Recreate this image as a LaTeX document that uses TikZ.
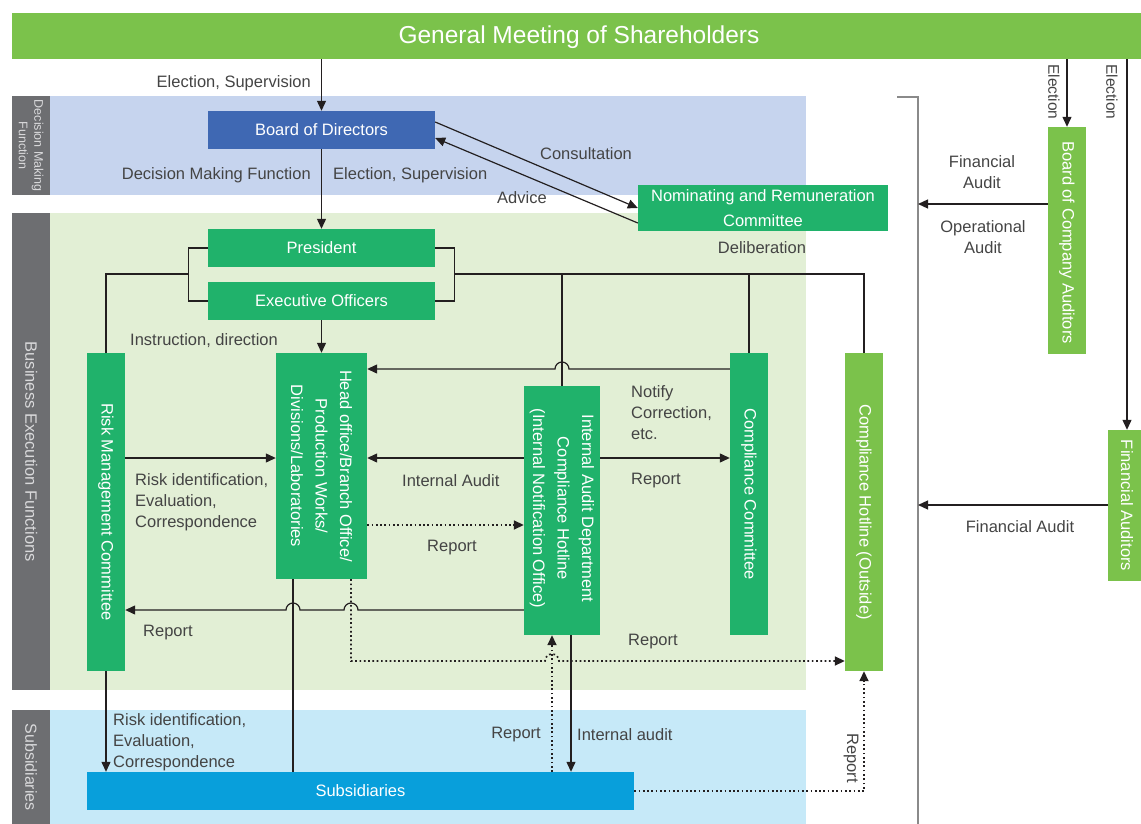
\documentclass[tikz,border=0pt]{standalone}
\usepackage{fontspec}
\setmainfont{Liberation Sans}
\usetikzlibrary{arrows.meta,calc}
\definecolor{gmgreen}{HTML}{7BC24B}
\definecolor{dkgreen}{HTML}{20B26B}
\definecolor{bodblue}{HTML}{3F68B3}
\definecolor{bandblue}{HTML}{C6D4EE}
\definecolor{bandgreen}{HTML}{E2EFD5}
\definecolor{bandsky}{HTML}{C6E9F8}
\definecolor{subblue}{HTML}{089FDB}
\definecolor{stripgray}{HTML}{6D6E71}
\definecolor{labelgray}{HTML}{444444}
\definecolor{linegray}{HTML}{8A8A8A}
\definecolor{linedark}{HTML}{231F20}
\definecolor{striptext}{HTML}{D9D9DB}
\tikzset{
  band/.style={draw=none, inner sep=0, anchor=north west},
  box/.style={draw=none, inner sep=0, text=white, align=center,
    font=\fontsize{16.5}{24.5}\selectfont},
  boxtext/.style={inner sep=0, text=white, align=center,
    font=\fontsize{16.5}{24.5}\selectfont},
  lbl/.style={inner sep=0, text=labelgray, align=left, yshift=-2pt,
    font=\fontsize{16.5}{21}\selectfont},
  striplbl/.style={inner sep=0, text=striptext, align=center, rotate=-90},
  conn/.style={draw=linedark, line width=1.2pt},
  arr/.style={conn, -{Triangle[length=10pt,width=9pt]}},
  dotln/.style={draw=linedark, line width=1.7pt, dash pattern=on 1.7pt off 2.6pt},
  darr/.style={dotln, -{Triangle[length=10pt,width=9pt]}},
  gline/.style={draw=linegray, line width=2pt},
}
\begin{document}
\begin{tikzpicture}[x=1pt,y=-1pt]
\useasboundingbox (0,0) rectangle (1141,824);
% bands
\node[band, fill=bandblue, minimum width=756, minimum height=99] (dmband) at (50,96) {};
\node[band, fill=stripgray, minimum width=38, minimum height=99] (dmstrip) at (12,96) {};
\node[band, fill=bandgreen, minimum width=756, minimum height=477] (beband) at (50,213) {};
\node[band, fill=stripgray, minimum width=38, minimum height=477] (bestrip) at (12,213) {};
\node[band, fill=bandsky, minimum width=756, minimum height=114] (sbband) at (50,710) {};
\node[band, fill=stripgray, minimum width=38, minimum height=114] (sbstrip) at (12,710) {};
\node[striplbl, font=\fontsize{12.5}{15.5}\selectfont] at (dmstrip.center) {Decision Making\\Function};
\node[striplbl, font=\fontsize{16.5}{20}\selectfont] at (bestrip.center) {Business Execution Functions};
\node[striplbl, font=\fontsize{16}{20}\selectfont] at (sbstrip.center) {Subsidiaries};

% boxes
\node[box, fill=gmgreen, minimum width=1134, minimum height=46, font=\fontsize{24.5}{28}\selectfont, text height=18pt, text depth=3pt] (gm) at (579,36) {General Meeting of Shareholders};
\node[box, fill=bodblue, minimum width=227, minimum height=38] (board) at (321.5,130) {Board of Directors};
\node[box, fill=dkgreen, minimum width=250, minimum height=46] (nom) at (763,208) {Nominating and Remuneration\\Committee};
\node[box, fill=dkgreen, minimum width=227, minimum height=38] (pres) at (321.5,248) {President};
\node[box, fill=dkgreen, minimum width=227, minimum height=38] (exec) at (321.5,301) {Executive Officers};
\node[box, fill=dkgreen, minimum width=38, minimum height=318] (risk) at (106,512) {};
\node[boxtext, rotate=-90] at (risk.center) {Risk Management Committee};
\node[box, fill=dkgreen, minimum width=91, minimum height=226] (hq) at (321.5,466) {};
\node[boxtext, rotate=-90] at (hq.center) {Head office/Branch Office/\\Production Works/\\Divisions/Laboratories};
\node[box, fill=dkgreen, minimum width=76, minimum height=249] (ia) at (562,510.5) {};
\node[boxtext, rotate=-90] at ($(ia.center)+(0,-2)$) {Internal Audit Department\\Compliance Hotline\\(Internal Notification Office)};
\node[box, fill=dkgreen, minimum width=38, minimum height=282] (cc) at (749,494) {};
\node[boxtext, rotate=-90] at (cc.center) {Compliance Committee};
\node[box, fill=gmgreen, minimum width=38, minimum height=318] (hot) at (864,512) {};
\node[boxtext, rotate=-90] at (hot.center) {Compliance Hotline (Outside)};
\node[box, fill=gmgreen, minimum width=38, minimum height=227] (bca) at (1067,240.5) {};
\node[boxtext, rotate=-90] at ($(bca.center)+(0,2)$) {Board of Company Auditors};
\node[box, fill=gmgreen, minimum width=38, minimum height=151] (fa) at (1127,505.5) {};
\node[boxtext, rotate=-90] at (fa.center) {Financial Auditors};
\node[box, fill=subblue, minimum width=547, minimum height=38] (subs) at (360.5,791) {Subsidiaries};

% auditor line
\coordinate (aud) at (918,97);
\draw[gline] (897,97) -- (aud) -- (918,826);

% connectors
\draw[arr] (gm.south -| board) -- (board.north);
\draw[arr] (board.south) -- (pres.north);
\draw[arr] (board.east |- 0,122) -- (nom.west);
\draw[arr] (nom.west |- 0,223) -- (board.east |- 0,138);
\draw[conn] (pres.west) -- ++(-19,0) |- (exec.west);
\draw[conn] (pres.east) -- ++(19,0) |- (exec.east);
\coordinate (bl) at (189,274);
\coordinate (br) at (454,274);
\draw[conn] (bl) -| (risk.north);
\draw[conn] (br) -| (hot.north);
\draw[conn] (ia.north) -- (ia.north |- br);
\draw[conn] (cc.north) -- (cc.north |- br);
\draw[arr] (exec.south) -- (hq.north);
\draw[arr] (cc.west |- 0,369) -- ($(ia.north |- 0,369)+(7,0)$) arc[start angle=0, end angle=-180, radius=7] -- (hq.east |- 0,369);
\draw[arr] (risk.east |- 0,458) -- (hq.west |- 0,458);
\draw[arr] (ia.west |- 0,458) -- (hq.east |- 0,458);
\draw[arr] (ia.east |- 0,458) -- (cc.west |- 0,458);
\draw[darr] (hq.east |- 0,525) -- (ia.west |- 0,525);
\draw[arr] (ia.west |- 0,610) -- (358,610) arc[start angle=0, end angle=-180, radius=7] -- (300,610) arc[start angle=0, end angle=-180, radius=7] -- (risk.east |- 0,610);
\draw[conn] (hq.south -| 293,0) -- (subs.north -| 293,0);
\draw[darr] (hq.south -| 351,0) -- (351,661) -- (545,661) arc[start angle=180, end angle=360, radius=7] -- (hot.west |- 0,661);
\draw[darr] (subs.north -| 552,0) -- (ia.south -| 552,0);
\draw[arr] (ia.south -| 571,0) -- (subs.north -| 571,0);
\draw[arr] (risk.south) -- (risk.south |- subs.north);
\draw[darr] (subs.east) -| (hot.south);
\draw[arr] (gm.south -| bca) -- (bca.north);
\draw[arr] (gm.south -| fa) -- (fa.north);
\draw[arr] (bca.west |- 0,204) -- (aud |- 0,204);
\draw[arr] (fa.west |- 0,505) -- (aud |- 0,505);

% labels
\node[lbl, anchor=east] at (311,81) {Election, Supervision};
\node[lbl, anchor=east] at (311,173) {Decision Making Function};
\node[lbl, anchor=west] at (333,173) {Election, Supervision};
\node[lbl] at (586,152) {Consultation};
\node[lbl] at (522,196) {Advice};
\node[lbl] at (762,246) {Deliberation};
\node[lbl, anchor=west] at (130,339) {Instruction, direction};
\node[lbl, anchor=west] at (135,500) {Risk identification,\\Evaluation,\\Correspondence};
\node[lbl, anchor=west] at (402,479) {Internal Audit};
\node[lbl, anchor=west] at (631,411) {Notify\\Correction,\\etc.};
\node[lbl, anchor=west] at (631,479) {Report};
\node[lbl] at (452,546) {Report};
\node[lbl, anchor=west] at (143,631) {Report};
\node[lbl, anchor=west] at (628,640) {Report};
\node[lbl, anchor=west] at (113,740) {Risk identification,\\Evaluation,\\Correspondence};
\node[lbl, anchor=east] at (541,733) {Report};
\node[lbl, anchor=west] at (577,733) {Internal audit};
\node[lbl, rotate=-90, yshift=2pt, xshift=-2pt] at (849,758) {Report};
\node[lbl, rotate=-90, yshift=2pt, xshift=-2pt, font=\fontsize{15.5}{19}\selectfont] at (1052,92) {Election};
\node[lbl, rotate=-90, yshift=2pt, xshift=-2pt, font=\fontsize{15.5}{19}\selectfont] at (1110,92) {Election};
\node[lbl, align=center] at (982,170) {Financial\\Audit};
\node[lbl, align=center] at (983,235) {Operational\\Audit};
\node[lbl] at (1020,525) {Financial Audit};
\end{tikzpicture}
\end{document}
